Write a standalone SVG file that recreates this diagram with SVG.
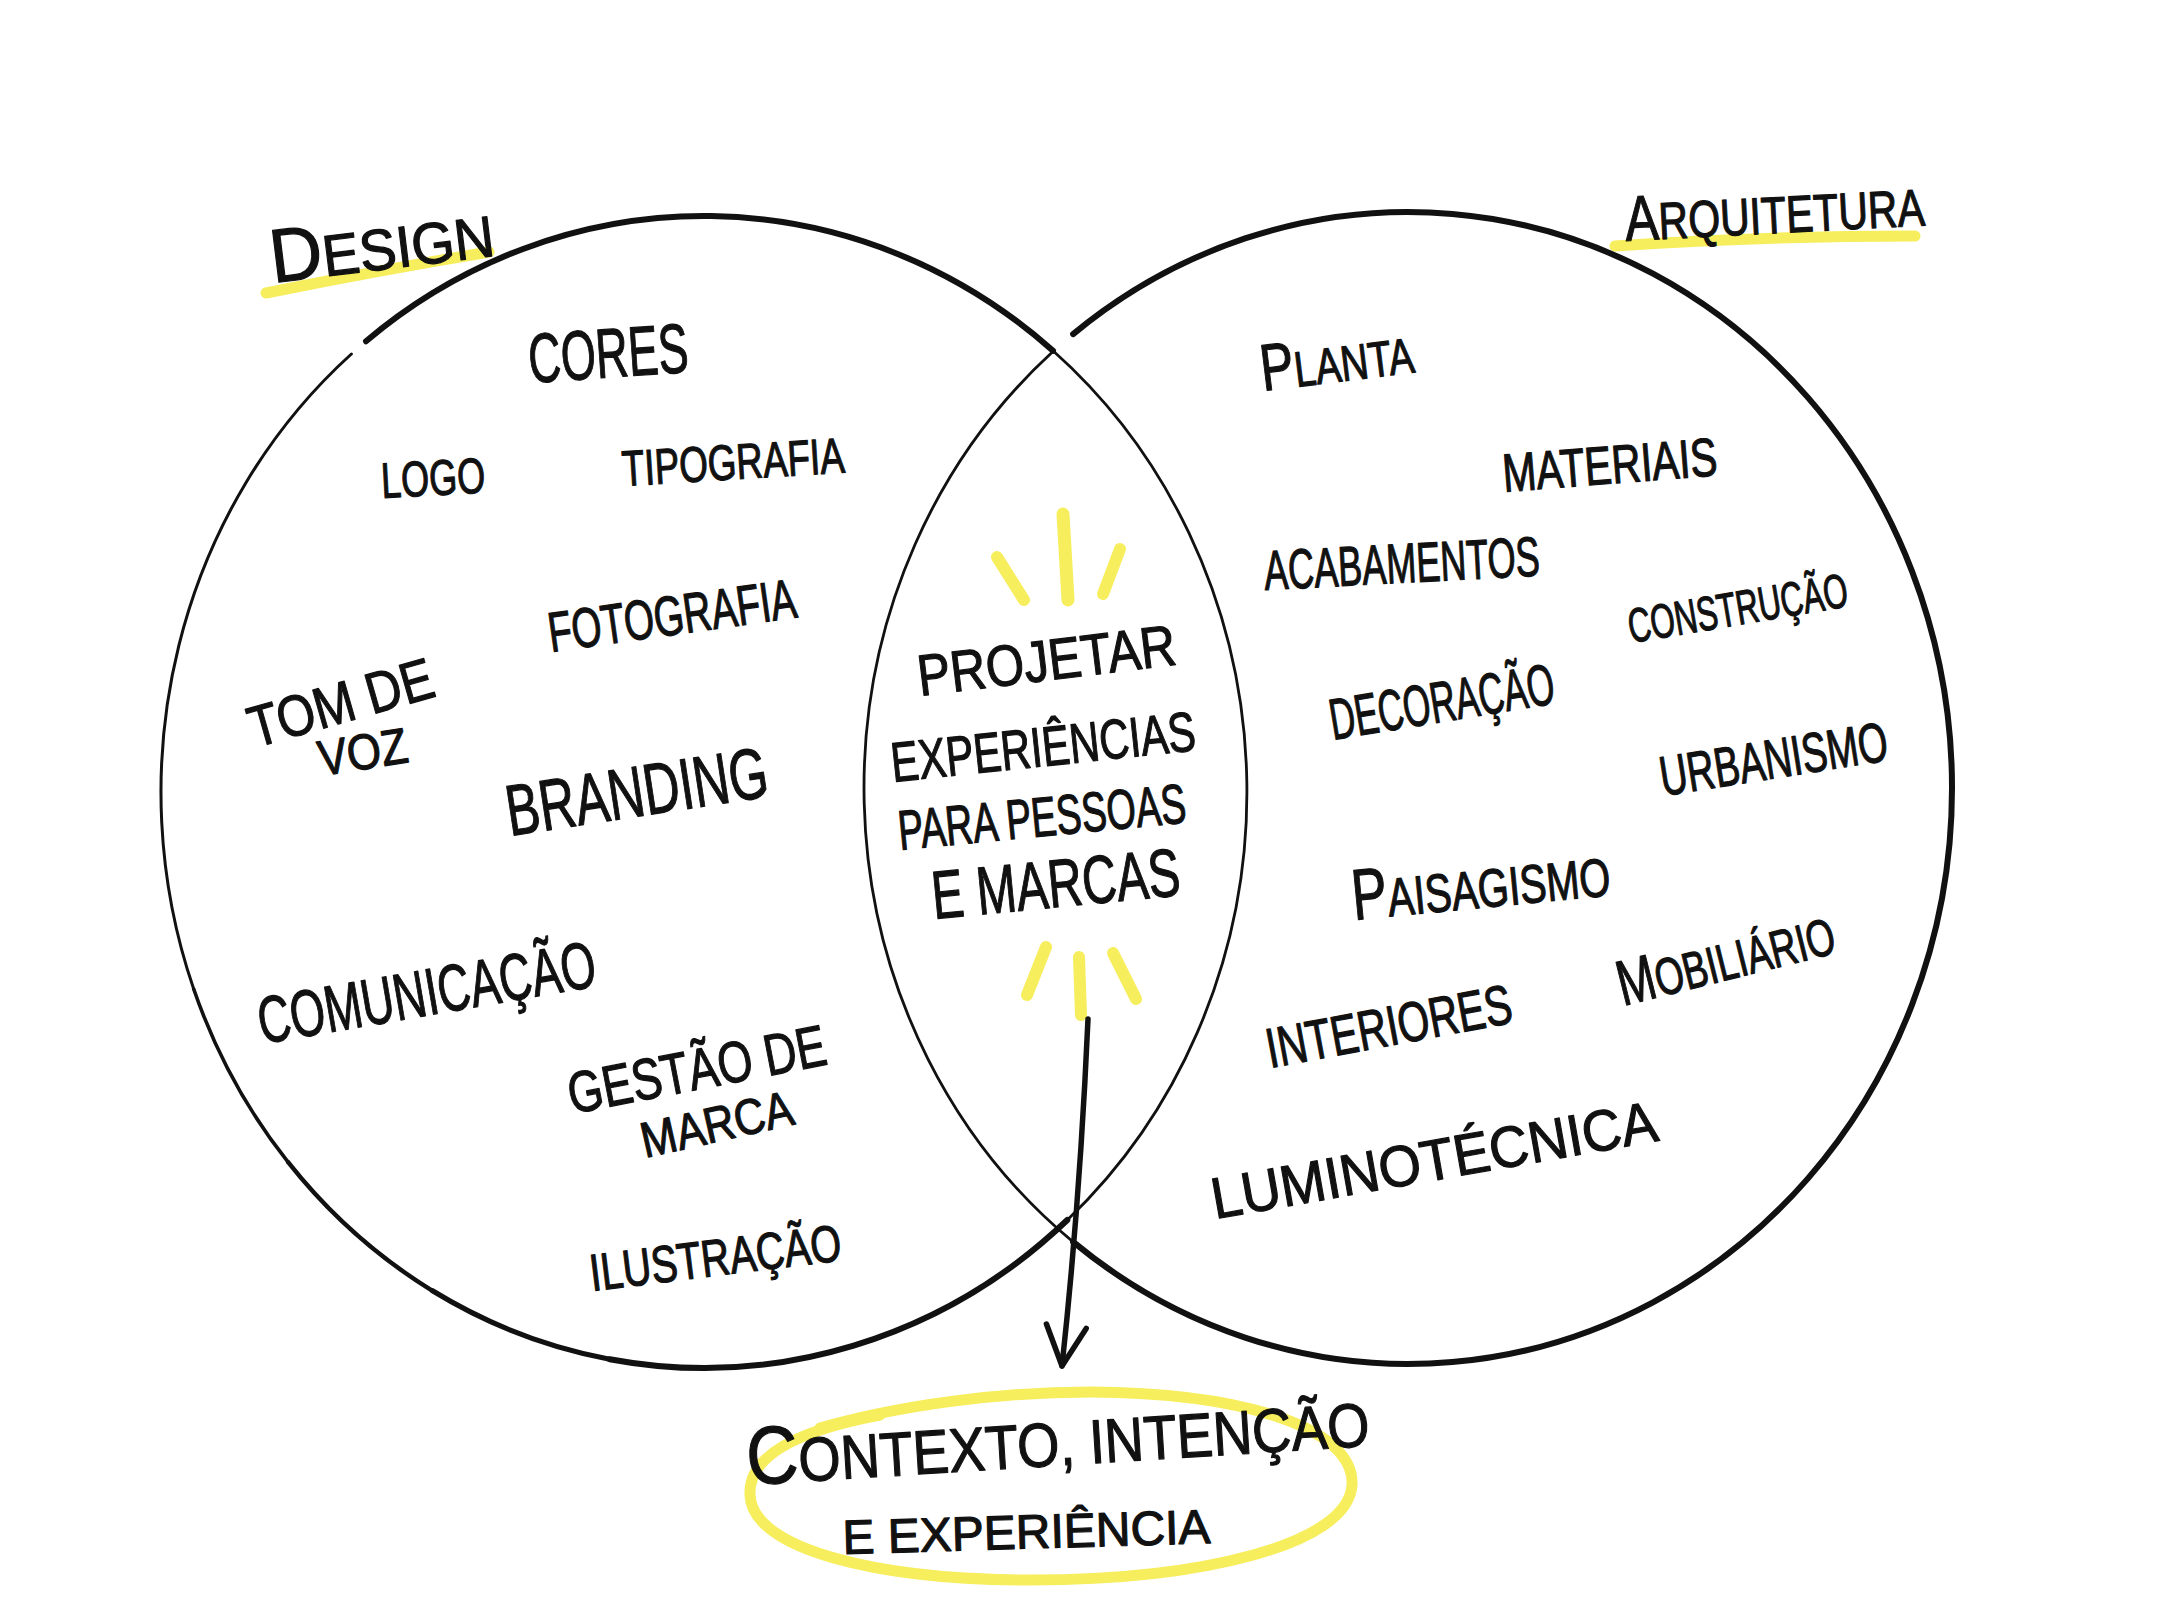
<svg xmlns="http://www.w3.org/2000/svg" width="2160" height="1620" viewBox="0 0 2160 1620">
<style>
.t{font-family:"Liberation Sans","DejaVu Sans",Arial,sans-serif;fill:#111;stroke:#111;stroke-width:1.2;stroke-linejoin:round;}
.c{fill:none;stroke:#111;stroke-linecap:round;}
.thick{stroke-width:6;}
.thin{stroke-width:3;}
.y{fill:none;stroke:#f6ee5c;stroke-linecap:round;}
</style>
<defs>
<marker id="ah" markerUnits="userSpaceOnUse" markerWidth="60" markerHeight="60" viewBox="-50 -30 60 60" refX="0" refY="0" orient="auto">
<path d="M-40,-20 L0,0 L-40,20" fill="none" stroke="#111" stroke-width="5.5" stroke-linecap="round" stroke-linejoin="round"/>
</marker>
</defs>
<rect width="2160" height="1620" fill="#fff"/>

<g id="highlights">
<path class="y" stroke-width="11" d="M266 293 Q380 270 489 252"/>
<path class="y" stroke-width="11" d="M1615 246 Q1760 236 1915 236"/>
<path class="y" stroke-width="12" d="M997 557 L1024 600"/>
<path class="y" stroke-width="13" d="M1063 514 L1068 600"/>
<path class="y" stroke-width="12" d="M1120 549 L1103 594"/>
<path class="y" stroke-width="12" d="M1046 947 L1027 995"/>
<path class="y" stroke-width="12" d="M1079 957 L1081 1015"/>
<path class="y" stroke-width="12" d="M1113 953 L1136 999"/>
<path class="y" stroke-width="11" d="M820 1428 C900 1405 1000 1392 1090 1392 C1250 1393 1355 1430 1352 1485 C1348 1545 1200 1580 1030 1580 C880 1580 752 1550 750 1495 C748 1455 800 1430 880 1415"/>
</g>

<g id="design-circle">
<path class="c thick" d="M366 341.2 A543 576 0 0 1 1053 350.8"/>
<path class="c" stroke-width="2.8" d="M1053 350.8 A543 576 0 0 1 1067.3 1220"/>
<path class="c thick" d="M1067.3 1220 A543 576 0 0 1 609.7 1359.2"/>
<path class="c" stroke-width="5.2" d="M609.7 1359.2 A543 576 0 0 1 432.5 1290.8"/>
<path class="c" stroke-width="4.4" d="M432.5 1290.8 A543 576 0 0 1 288.1 1162.2"/>
<path class="c" stroke-width="3.6" d="M288.1 1162.2 A543 576 0 0 1 193.7 989"/>
<path class="c thin" d="M193.7 989 A543 576 0 0 1 351.4 354"/>
</g>
<g id="arquitetura-circle">
<path class="c thick" d="M1073.1 334.1 A544 576 0 1 1 1073.1 1241.9"/>
<path class="c" stroke-width="2.8" d="M1073.1 1241.9 A544 576 0 0 1 1051.1 353.3"/>
</g>

<g id="connectors">
<path class="c" stroke-width="5.5" d="M1088 1019 Q1080 1200 1062 1366" marker-end="url(#ah)"/>
</g>

<g id="label-design"><text class="t" x="273" y="283" font-size="58" transform="rotate(-7 273 283)" textLength="225" lengthAdjust="spacingAndGlyphs"><tspan font-size="76">D</tspan>ESIGN</text></g>
<g id="label-arquitetura"><text class="t" x="1626" y="241" font-size="52" transform="rotate(-3 1626 241)" textLength="300" lengthAdjust="spacingAndGlyphs"><tspan font-size="64">A</tspan>RQUITETURA</text></g>

<g id="cores"><text class="t" x="530" y="383" font-size="70" transform="rotate(-4 530 383)" textLength="160" lengthAdjust="spacingAndGlyphs">CORES</text></g>
<g id="logo"><text class="t" x="382" y="498" font-size="50" transform="rotate(-3 382 498)" textLength="104" lengthAdjust="spacingAndGlyphs">LOGO</text></g>
<g id="tipografia"><text class="t" x="623" y="486" font-size="50" transform="rotate(-3.5 623 486)" textLength="223" lengthAdjust="spacingAndGlyphs">TIPOGRAFIA</text></g>
<g id="fotografia"><text class="t" x="551" y="652" font-size="56" transform="rotate(-8 551 652)" textLength="250" lengthAdjust="spacingAndGlyphs">FOTOGRAFIA</text></g>
<g id="tom-de-voz">
<text class="t" x="255" y="748" font-size="58" transform="rotate(-16 255 748)" textLength="190" lengthAdjust="spacingAndGlyphs">TOM DE</text>
<text class="t" x="321" y="776" font-size="50" transform="rotate(-9 321 776)" textLength="90" lengthAdjust="spacingAndGlyphs">VOZ</text>
</g>
<g id="branding"><text class="t" x="510" y="836" font-size="72" transform="rotate(-8.7 510 836)" textLength="264" lengthAdjust="spacingAndGlyphs">BRANDING</text></g>
<g id="comunicacao"><text class="t" x="262" y="1044" font-size="66" transform="rotate(-9.8 262 1044)" textLength="342" lengthAdjust="spacingAndGlyphs">COMUNICAÇÃO</text></g>
<g id="gestao-de-marca">
<text class="t" x="572" y="1114" font-size="58" transform="rotate(-11 572 1114)" textLength="262" lengthAdjust="spacingAndGlyphs">GESTÃO DE</text>
<text class="t" x="645" y="1158" font-size="50" transform="rotate(-12.7 645 1158)" textLength="155" lengthAdjust="spacingAndGlyphs">MARCA</text>
</g>
<g id="ilustracao"><text class="t" x="592" y="1291" font-size="52" transform="rotate(-7 592 1291)" textLength="253" lengthAdjust="spacingAndGlyphs">ILUSTRAÇÃO</text></g>

<g id="planta"><text class="t" x="1263" y="391" font-size="50" transform="rotate(-7 1263 391)" textLength="154" lengthAdjust="spacingAndGlyphs"><tspan font-size="66">P</tspan>LANTA</text></g>
<g id="materiais"><text class="t" x="1504" y="492" font-size="54" transform="rotate(-4.5 1504 492)" textLength="215" lengthAdjust="spacingAndGlyphs">MATERIAIS</text></g>
<g id="acabamentos"><text class="t" x="1265" y="590" font-size="56" transform="rotate(-3 1265 590)" textLength="276" lengthAdjust="spacingAndGlyphs">ACABAMENTOS</text></g>
<g id="construcao"><text class="t" x="1631" y="643" font-size="48" transform="rotate(-9.6 1631 643)" textLength="222" lengthAdjust="spacingAndGlyphs">CONSTRUÇÃO</text></g>
<g id="decoracao"><text class="t" x="1333" y="740" font-size="58" transform="rotate(-9.4 1333 740)" textLength="227" lengthAdjust="spacingAndGlyphs">DECORAÇÃO</text></g>
<g id="urbanismo"><text class="t" x="1663" y="796" font-size="56" transform="rotate(-9 1663 796)" textLength="230" lengthAdjust="spacingAndGlyphs">URBANISMO</text></g>
<g id="paisagismo"><text class="t" x="1354" y="920" font-size="54" transform="rotate(-5.5 1354 920)" textLength="259" lengthAdjust="spacingAndGlyphs"><tspan font-size="72">P</tspan>AISAGISMO</text></g>
<g id="interiores"><text class="t" x="1270" y="1068" font-size="56" transform="rotate(-10.6 1270 1068)" textLength="249" lengthAdjust="spacingAndGlyphs">INTERIORES</text></g>
<g id="mobiliario"><text class="t" x="1623" y="1006" font-size="52" transform="rotate(-14 1623 1006)" textLength="222" lengthAdjust="spacingAndGlyphs"><tspan font-size="64">M</tspan>OBILIÁRIO</text></g>
<g id="luminotecnica"><text class="t" x="1215" y="1219" font-size="58" transform="rotate(-10 1215 1219)" textLength="452" lengthAdjust="spacingAndGlyphs">LUMINOTÉCNICA</text></g>

<g id="centro">
<text class="t" x="920" y="696" font-size="58" transform="rotate(-7 920 696)" textLength="260" lengthAdjust="spacingAndGlyphs">PROJETAR</text>
<text class="t" x="893" y="782" font-size="56" transform="rotate(-6 893 782)" textLength="306" lengthAdjust="spacingAndGlyphs">EXPERIÊNCIAS</text>
<text class="t" x="900" y="850" font-size="56" transform="rotate(-5.5 900 850)" textLength="289" lengthAdjust="spacingAndGlyphs">PARA PESSOAS</text>
<text class="t" x="934" y="919" font-size="68" transform="rotate(-5.5 934 919)" textLength="249" lengthAdjust="spacingAndGlyphs">E MARCAS</text>
</g>

<g id="resultado">
<text class="t" x="748" y="1485" font-size="62" transform="rotate(-3.6 748 1485)" textLength="624" lengthAdjust="spacingAndGlyphs"><tspan font-size="82">C</tspan>ONTEXTO, INTENÇÃO</text>
<text class="t" x="843" y="1554" font-size="48" transform="rotate(-1.7 843 1554)" textLength="368" lengthAdjust="spacingAndGlyphs">E EXPERIÊNCIA</text>
</g>
</svg>
